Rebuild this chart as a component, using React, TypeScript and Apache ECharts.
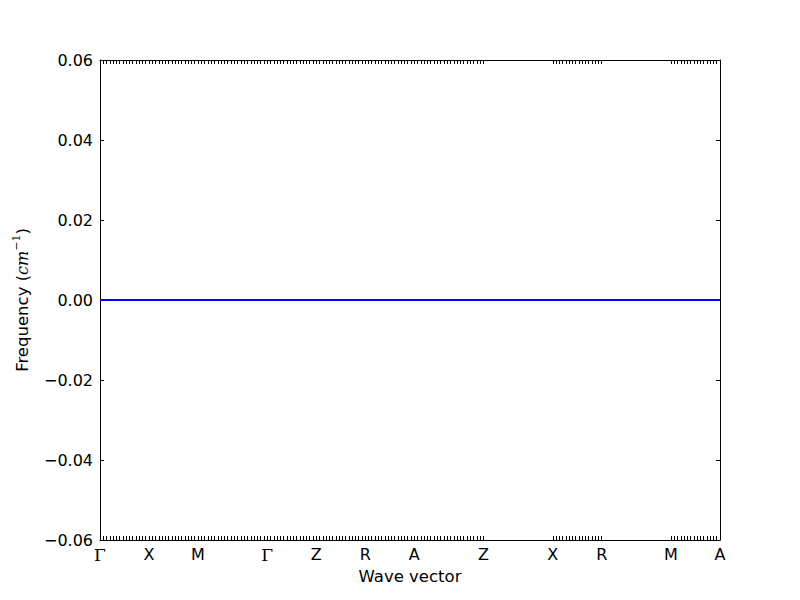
import React, { useEffect, useRef } from "react";
import * as echarts from "echarts";

// High-symmetry path: labels and their cumulative path positions
const kLabels = ["Γ", "X", "M", "Γ", "Z", "R", "A", "Z", "X", "R", "M", "A"];
const kPositions = [0, 0.5, 1.0, 1.7071, 2.2071, 2.7071, 3.2071, 3.9142, 4.6213, 5.1213, 5.8284, 6.3284];
// Frequencies read at each high-symmetry point (cm^-1)
const frequencies = [0, 0, 0, 0, 0, 0, 0, 0, 0, 0, 0, 0];
// Number of q-point intervals sampled in each path segment (0 = jump, no samples)
const segmentSamples = [15, 15, 21, 15, 15, 15, 21, 0, 15, 0, 15];
// Y ticks
const yMin = -0.06;
const yMax = 0.06;
const yStep = 0.02;

function qPointTicks(): number[] {
  const out: number[] = [];
  for (let s = 0; s < segmentSamples.length; s++) {
    const a = kPositions[s];
    const b = kPositions[s + 1];
    const n = segmentSamples[s];
    if (n === 0) {
      out.push(a, b);
      continue;
    }
    for (let i = 0; i <= n; i++) out.push(a + ((b - a) * i) / n);
  }
  const uniq: number[] = [];
  out.sort((x, y) => x - y).forEach((v) => {
    if (!uniq.length || Math.abs(uniq[uniq.length - 1] - v) > 1e-6) uniq.push(+v.toFixed(6));
  });
  return uniq;
}

export default function App() {
  const ref = useRef<HTMLDivElement>(null);
  useEffect(() => {
    if (!ref.current) return;
    const chart = echarts.init(ref.current, undefined, { renderer: "svg" });
    const ticks = qPointTicks();
    const xMax = kPositions[kPositions.length - 1];
    const fontSans = "DejaVu Sans";
    const tickCommon = {
      show: true,
      inside: true,
      length: 4,
      lineStyle: { color: "#000", width: 1 },
    };
    const lineCommon = { show: true, onZero: false, lineStyle: { color: "#000", width: 1 } };
    const labelFor = (v: number) => {
      let best = 0;
      let bd = Infinity;
      kPositions.forEach((p, i) => {
        const d = Math.abs(p - v);
        if (d < bd) {
          bd = d;
          best = i;
        }
      });
      const l = kLabels[best];
      return l === "Γ" ? "{g|Γ}" : l;
    };
    const yFmt = (v: number) => {
      const r = Math.round(v * 100) / 100;
      if (Math.abs(r) < 1e-9) return "0.00";
      return (r < 0 ? "\u2212" : "") + Math.abs(r).toFixed(2);
    };
    chart.setOption({
      animation: false,
      backgroundColor: "#fff",
      grid: { left: 100, right: 80, top: 60, bottom: 60, containLabel: false },
      xAxis: [
        {
          type: "value",
          position: "bottom",
          min: 0,
          max: xMax,
          axisLine: lineCommon,
          axisTick: { ...tickCommon, customValues: ticks },
          splitLine: { show: false },
          axisLabel: {
            show: true,
            customValues: kPositions,
            formatter: (v: number) => labelFor(v),
            color: "#000",
            fontFamily: fontSans,
            fontSize: 16,
            margin: 6,
            rich: { g: { fontFamily: "DejaVu Serif", fontSize: 17, color: "#000" } },
          },
          name: "Wave vector",
          nameLocation: "middle",
          nameGap: 28,
          nameTextStyle: { color: "#000", fontFamily: fontSans, fontSize: 16.5 },
        },
        {
          type: "value",
          position: "top",
          min: 0,
          max: xMax,
          axisLine: lineCommon,
          axisTick: { ...tickCommon, customValues: ticks },
          splitLine: { show: false },
          axisLabel: { show: false },
        },
      ],
      yAxis: [
        {
          type: "value",
          position: "left",
          min: yMin,
          max: yMax,
          interval: yStep,
          axisLine: lineCommon,
          axisTick: tickCommon,
          splitLine: { show: false },
          axisLabel: {
            formatter: yFmt,
            color: "#000",
            fontFamily: fontSans,
            fontSize: 16,
            margin: 7,
          },
          name: "Frequency ({i|cm}{s|\u22121})",
          nameLocation: "middle",
          nameGap: 66,
          nameTextStyle: {
            color: "#000",
            fontFamily: fontSans,
            fontSize: 16.5,
            lineHeight: 22,
            rich: {
              i: { fontFamily: "DejaVu Serif", fontStyle: "italic", fontSize: 16, color: "#000", lineHeight: 22 },
              s: { fontFamily: "DejaVu Serif", fontSize: 11, color: "#000", verticalAlign: "top", lineHeight: 14 },
            },
          },
        },
        {
          type: "value",
          position: "right",
          min: yMin,
          max: yMax,
          interval: yStep,
          axisLine: lineCommon,
          axisTick: tickCommon,
          splitLine: { show: false },
          axisLabel: { show: false },
        },
      ],
      series: [
        {
          type: "line",
          xAxisIndex: 0,
          yAxisIndex: 0,
          data: kPositions.map((x, i) => [x, frequencies[i]]),
          showSymbol: false,
          lineStyle: { color: "#0000ff", width: 2 },
          itemStyle: { color: "#0000ff" },
        },
      ],
    });
    return () => chart.dispose();
  }, []);
  return (
    <div
      ref={ref}
      style={{ position: "absolute", left: 0, top: 0, width: 800, height: 600 }}
    />
  );
}
